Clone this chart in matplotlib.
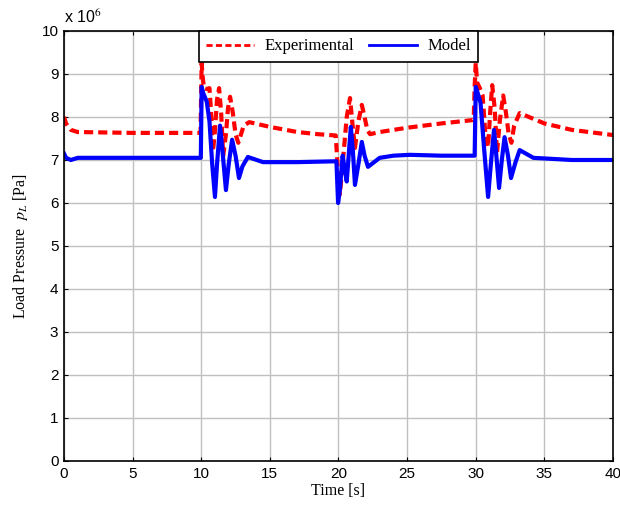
import matplotlib
matplotlib.use("Agg")
import matplotlib.pyplot as plt
from matplotlib.lines import Line2D

plt.rcParams["mathtext.fontset"] = "stix"

# Experimental (red dashed), time [s] and pressure [x1e6 Pa]
exp_t = [0.0, 0.15, 0.5, 1.0, 5.0, 9.95, 10.03, 10.1, 10.2, 10.4, 10.6, 10.72,
         10.85, 10.98, 11.15, 11.3, 11.45, 11.6, 11.8, 11.95, 12.1, 12.3, 12.5,
         12.7, 12.9, 13.1, 13.5, 15.0, 17.0, 18.5, 19.8, 19.95, 20.1, 20.3,
         20.6, 20.84, 21.0, 21.2, 21.45, 21.7, 21.9, 22.1, 22.3, 23.0, 25.0,
         27.5, 29.85, 29.92, 30.0, 30.1, 30.3, 30.5, 30.7, 30.9, 31.05, 31.2,
         31.38, 31.55, 31.75, 32.0, 32.2, 32.4, 32.6, 32.8, 33.2, 35.0, 37.0,
         40.0]
exp_p = [8.0, 7.85, 7.7, 7.65, 7.63, 7.63, 9.25, 8.95, 8.67, 8.65, 8.67, 8.1,
         7.2, 7.6, 8.4, 8.67, 8.1, 7.1, 7.6, 8.2, 8.47, 8.1, 7.6,
         7.4, 7.6, 7.8, 7.88, 7.77, 7.65, 7.6, 7.57, 6.8, 6.2, 6.9,
         8.0, 8.44, 7.9, 7.28, 7.9, 8.28, 8.0, 7.7, 7.6, 7.65, 7.75,
         7.85, 7.93, 8.7, 9.26, 8.8, 8.67, 8.5, 7.6, 7.3, 8.1, 8.74,
         8.2, 7.16, 7.9, 8.5, 8.1, 7.6, 7.4, 7.8, 8.09, 7.85, 7.7,
         7.58]

# Model (blue solid)
mod_t = [0.0, 0.15, 0.5, 1.0, 5.0, 9.97, 10.03, 10.15, 10.4, 10.6, 10.8,
         11.0, 11.15, 11.37, 11.55, 11.8, 12.0, 12.25, 12.5, 12.75, 13.0,
         13.4, 14.5, 17.0, 19.85, 19.97, 20.1, 20.3, 20.45, 20.6, 20.9, 21.05,
         21.2, 21.45, 21.7, 21.9, 22.15, 23.0, 24.0, 25.2, 27.5, 29.92, 30.0,
         30.15, 30.35, 30.6, 30.9, 31.1, 31.33, 31.5, 31.7, 31.9, 32.1, 32.35,
         32.57, 32.9, 33.2, 34.2, 37.0, 40.0]
mod_p = [7.15, 7.05, 7.0, 7.05, 7.05, 7.05, 8.7, 8.55, 8.36, 7.9, 6.9,
         6.14, 6.9, 7.8, 7.2, 6.3, 6.9, 7.47, 7.1, 6.58, 6.85,
         7.07, 6.95, 6.95, 6.97, 6.0, 6.3, 7.1, 6.8, 6.5, 7.77, 7.2,
         6.42, 6.9, 7.42, 7.1, 6.84, 7.05, 7.1, 7.12, 7.1, 7.1, 8.7,
         8.55, 8.33, 7.3, 6.14, 6.9, 7.7, 7.1, 6.35, 7.0, 7.53, 7.1,
         6.58, 6.95, 7.23, 7.05, 7.0, 7.0]

x_ticks = [0, 5, 10, 15, 20, 25, 30, 35, 40]
y_ticks = [0, 1, 2, 3, 4, 5, 6, 7, 8, 9, 10]

fig = plt.figure(figsize=(6.2, 5.13), dpi=100)
ax = fig.add_axes([0.1032, 0.1014, 0.8855, 0.8382])

ax.plot(exp_t, exp_p, color="#ff0000", linestyle=(0, (2.2, 1.2)), linewidth=3.0)
ax.plot(mod_t, mod_p, color="#0000ff", linestyle="-", linewidth=3.0)

ax.set_xlim(0, 40)
ax.set_ylim(0, 10)
ax.set_xticks(x_ticks)
ax.set_yticks(y_ticks)
tick_font = {"family": "Liberation Sans", "size": 11}
ax.set_xticklabels([str(v) for v in x_ticks], fontdict=tick_font)
ax.set_yticklabels([str(v) for v in y_ticks], fontdict=tick_font)
ax.tick_params(direction="in", length=3, width=0.8, top=True, right=True, pad=4)
ax.grid(True, color="#c0c0c0", linewidth=1.0)
for s in ax.spines.values():
    s.set_linewidth(1.2)

ax.set_xlabel("Time [s]", fontfamily="Liberation Serif", fontsize=11.5, labelpad=2)
ax.set_ylabel(r"Load Pressure  $p_L$ [Pa]", fontfamily="Liberation Serif", fontsize=11.5, labelpad=8)

ax.text(0.0, 1.012, r"x 10$^{6}$", transform=ax.transAxes, fontfamily="Liberation Sans",
        fontsize=11.5, ha="left", va="bottom")

handles = [Line2D([], [], color="#ff0000", linestyle=(0, (2.2, 1.2)), linewidth=2),
           Line2D([], [], color="#0000ff", linestyle="-", linewidth=2)]
leg = ax.legend(handles, ["Experimental", "Model"], loc="upper center",
                bbox_to_anchor=(0.5, 1.0), borderaxespad=0.0, ncol=2, fancybox=False,
                framealpha=1, edgecolor="black",
                prop={"family": "Liberation Serif", "size": 12},
                handlelength=2.9, columnspacing=0.9, handletextpad=0.6,
                borderpad=0.45)
leg.get_frame().set_linewidth(1.2)

fig.savefig("out.png", dpi=100)
